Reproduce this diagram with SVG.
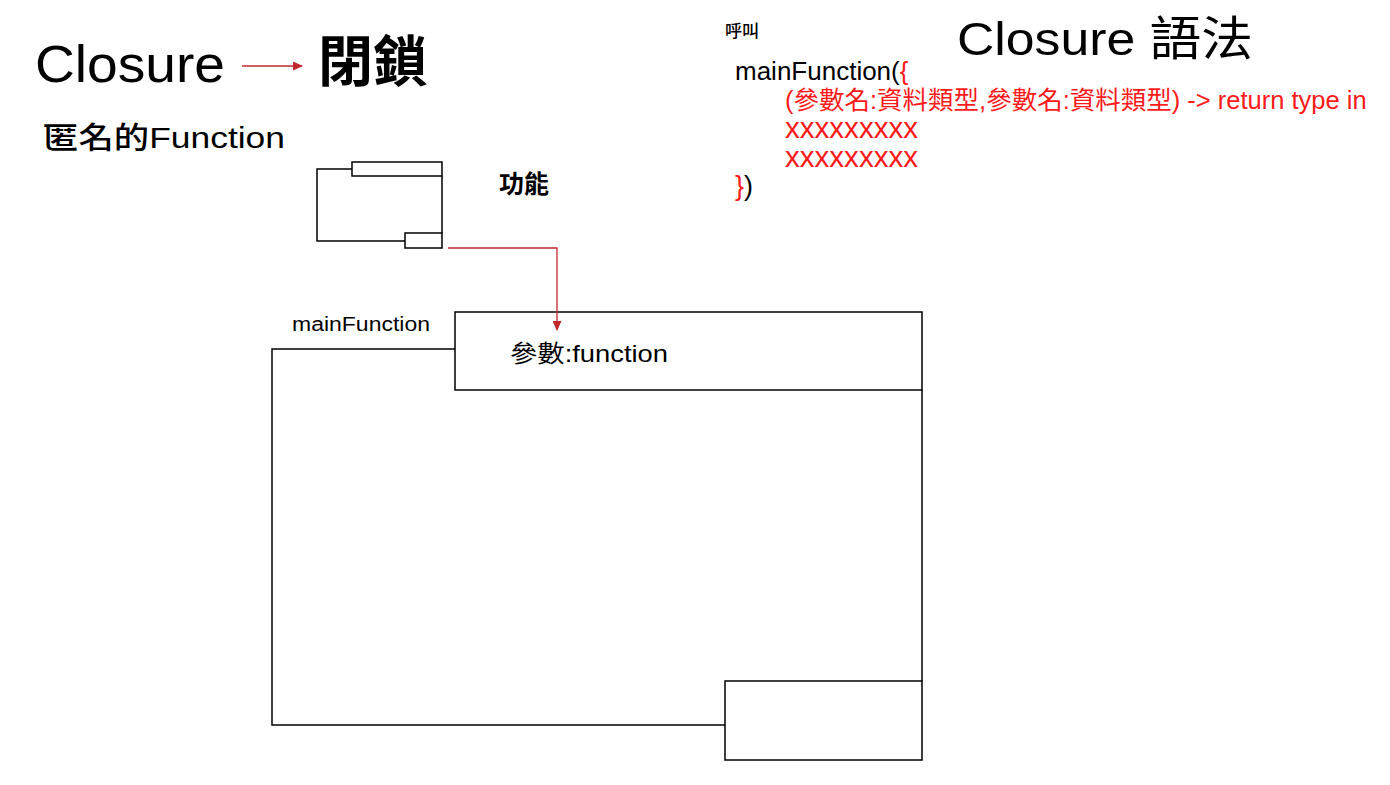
<svg xmlns="http://www.w3.org/2000/svg" width="1390" height="785" viewBox="0 0 1390 785">
<style>
text{font-family:"Liberation Sans","Noto Sans CJK TC",sans-serif;fill:#000}
.red{fill:#ff1a1a}
.b{font-weight:bold}
.m{font-weight:500}
.shape{fill:none;stroke:#000;stroke-width:1.5}
.conn{fill:none;stroke:#c0282d;stroke-width:1.3}
</style>
<defs>
<marker id="ah" markerWidth="10" markerHeight="9" refX="9" refY="4.5" orient="auto" markerUnits="userSpaceOnUse">
<path d="M0,0 L10,4.5 L0,9 Z" fill="#c0282d"/>
</marker>
</defs>
<rect width="1390" height="785" fill="#fff"/>

<g id="title">
<text x="35" y="82" font-size="52" textLength="190" lengthAdjust="spacingAndGlyphs">Closure</text>
<text x="318" y="81" font-size="55" class="b">閉鎖</text>
<text x="43" y="148" font-size="30" class="m" textLength="242" lengthAdjust="spacingAndGlyphs">匿名的Function</text>
</g>

<g id="small-function">
<path class="shape" d="M352,169 H317 V241 H405"/>
<rect class="shape" x="352" y="162" width="90" height="14"/>
<rect class="shape" x="405" y="233" width="37" height="15"/>
<line class="shape" x1="442" y1="176" x2="442" y2="233"/>
<text x="499" y="193" font-size="25" class="b">功能</text>
</g>

<g id="main-function">
<text x="292" y="331" font-size="20" textLength="138" lengthAdjust="spacingAndGlyphs">mainFunction</text>
<path class="shape" d="M455,349 H272 V725 H725"/>
<rect class="shape" x="455" y="312" width="467" height="78"/>
<rect class="shape" x="725" y="681" width="197" height="79"/>
<line class="shape" x1="922" y1="390" x2="922" y2="681"/>
<text x="510" y="362" font-size="24" textLength="158" lengthAdjust="spacingAndGlyphs">參數:function</text>
</g>

<g id="syntax">
<text x="725" y="37" font-size="17" class="m">呼叫</text>
<text x="957" y="55" font-size="47" textLength="296" lengthAdjust="spacingAndGlyphs">Closure 語法</text>
<text x="735" y="80" font-size="26">mainFunction(<tspan class="red">{</tspan></text>
<text x="785" y="109" font-size="25.5" class="red">(參數名:資料類型,參數名:資料類型) -&gt; return type in</text>
<text x="785" y="138" font-size="29" class="red" textLength="133" lengthAdjust="spacingAndGlyphs">xxxxxxxxx</text>
<text x="785" y="167" font-size="29" class="red" textLength="133" lengthAdjust="spacingAndGlyphs">xxxxxxxxx</text>
<text x="735" y="195" font-size="27"><tspan class="red">}</tspan>)</text>
</g>

<g id="connectors">
<line class="conn" x1="242" y1="66" x2="302" y2="66" marker-end="url(#ah)"/>
<path class="conn" d="M448,248 H557 V330" marker-end="url(#ah)"/>
</g>
</svg>
